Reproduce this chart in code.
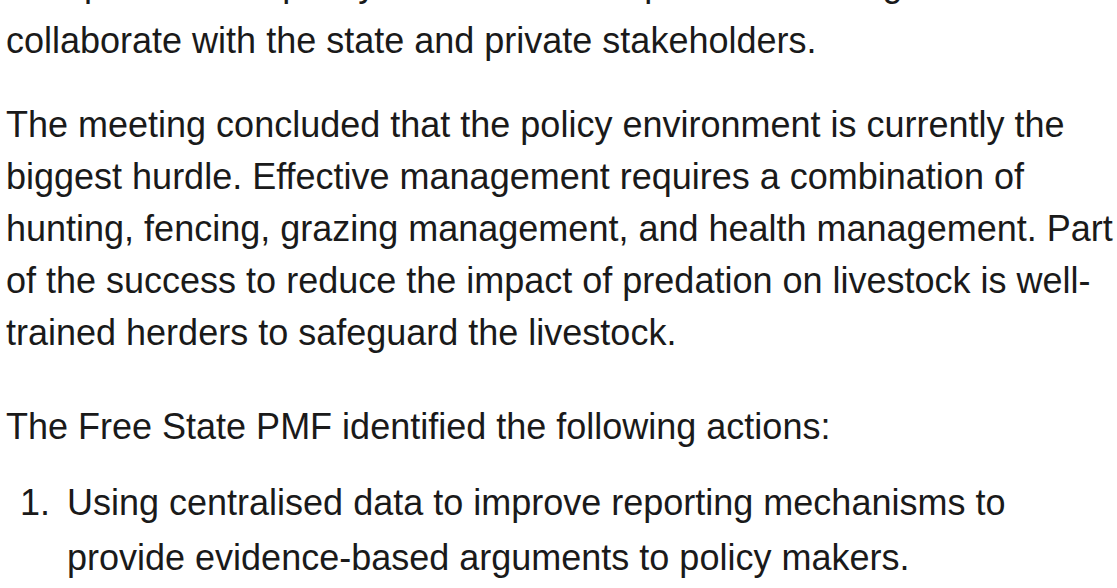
<!DOCTYPE html>
<html>
<head>
<meta charset="utf-8">
<script src="https://cdn.jsdelivr.net/npm/chart.js@4.4.1/dist/chart.umd.min.js"></script>
<style>
  html, body { margin: 0; padding: 0; background: #ffffff; overflow: hidden; }
  body { width: 1117px; height: 588px; position: relative; }
  #page {
    position: absolute; left: 6px; top: -37px;
    font-family: "Liberation Sans", Arial, Helvetica, sans-serif;
    font-size: 36px; color: #1a1a1a;
  }
  .para { margin: 0; line-height: 52px; }
  .para .ln { display: block; white-space: nowrap; }
  /* the line above the crop shows only its descenders */
  .para .ln.clipped { position: relative; top: -5px; }
  .gap1 { margin-top: 32px; }
  .gap2 { margin-top: 42px; }
  .list { margin: 22px 0 0 0; padding: 0; list-style: none; line-height: 55px; }
  .list li { position: relative; padding-left: 61px; }
  .list .ln { display: block; white-space: nowrap; }
  .list .num { position: absolute; left: 14px; top: 0; }
</style>
</head>
<body>
<div id="page"></div>
<script>
// ── Text content, line by line as it wraps in the screenshot ──
const introLines = [
  'to improve the capacity of all farmers to plan and manage',
  'collaborate with the state and private stakeholders.'
];
const meetingLines = [
  'The meeting concluded that the policy environment is currently the',
  'biggest hurdle. Effective management requires a combination of',
  'hunting, fencing, grazing management, and health management. Part',
  'of the success to reduce the impact of predation on livestock is well-',
  'trained herders to safeguard the livestock.'
];
const actionsLead = ['The Free State PMF identified the following actions:'];
const actionItems = [
  ['Using centralised data to improve reporting mechanisms to',
   'provide evidence-based arguments to policy makers.']
];

// ── Build DOM ─────────────────────────────────────────────
function para(lines, cls, clipFirst) {
  const p = document.createElement('p');
  p.className = 'para' + (cls ? ' ' + cls : '');
  lines.forEach((t, i) => {
    const s = document.createElement('span');
    s.className = 'ln' + (clipFirst && i === 0 ? ' clipped' : '');
    s.textContent = t;
    p.appendChild(s);
  });
  return p;
}

const page = document.getElementById('page');
page.appendChild(para(introLines, '', true));
page.appendChild(para(meetingLines, 'gap1'));
page.appendChild(para(actionsLead, 'gap2'));

const ol = document.createElement('ol');
ol.className = 'list';
actionItems.forEach((lines, i) => {
  const li = document.createElement('li');
  const num = document.createElement('span');
  num.className = 'num';
  num.textContent = (i + 1) + '.';
  li.appendChild(num);
  lines.forEach(t => {
    const s = document.createElement('span');
    s.className = 'ln';
    s.textContent = t;
    li.appendChild(s);
  });
  ol.appendChild(li);
});
page.appendChild(ol);
</script>
</body>
</html>
